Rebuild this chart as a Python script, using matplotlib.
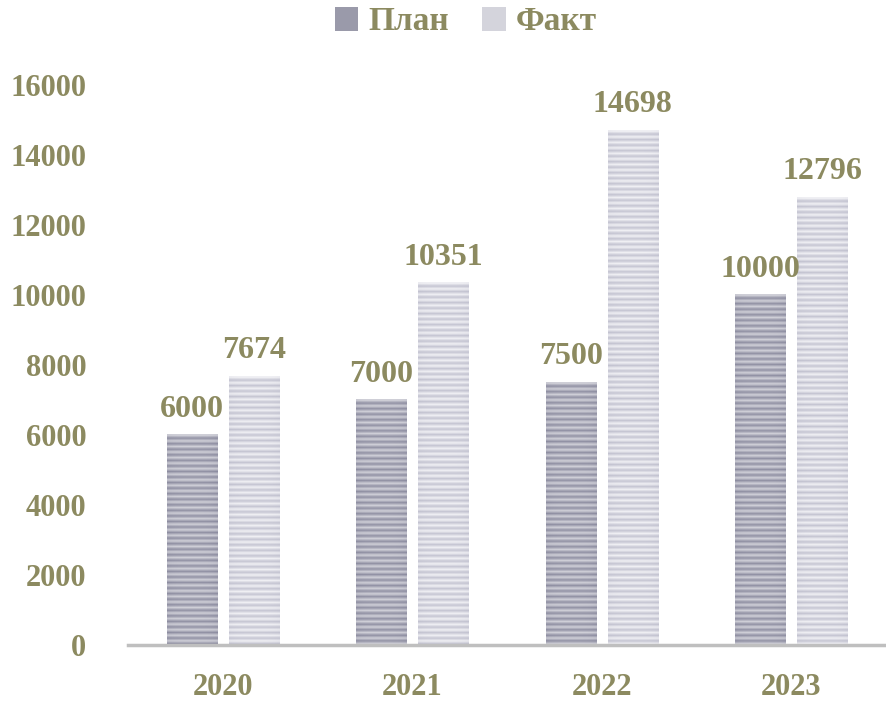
import numpy as np
import matplotlib
matplotlib.use("Agg")
import matplotlib.pyplot as plt
from matplotlib.patches import Rectangle

years = ["2020", "2021", "2022", "2023"]
plan = [6000, 7000, 7500, 10000]
fact = [7674, 10351, 14698, 12796]
series_names = ["План", "Факт"]
yticks = [0, 2000, 4000, 6000, 8000, 10000, 12000, 14000, 16000]

olive = "#8c8a60"
font = "Liberation Serif"

fig = plt.figure(figsize=(8.86, 7.05), dpi=100)
ax = fig.add_axes([128/886, 1-645/705, (886-128)/886, 560/705])

ax.set_xlim(-0.5, len(years) - 0.5)
ax.set_ylim(0, 16000)

width = 0.264
offset = 0.163


def striped(dark, light, n_rows):
    cols = 40
    x = np.linspace(-1, 1, cols)
    edge = 1 - 0.3 * x**4
    rows = np.arange(n_rows)
    stripe = 0.5 + 0.5 * np.cos(rows * np.pi)
    dark = np.array(matplotlib.colors.to_rgb(dark))
    light = np.array(matplotlib.colors.to_rgb(light))
    t = stripe[:, None] * 0.75 + 0.25 * edge[None, :]
    t = np.clip(t, 0, 1)
    img = dark[None, None, :] * (1 - t[..., None]) + light[None, None, :] * t[..., None]
    return img


def draw_bar(xc, val, dark, light):
    px = val / 16000 * 560
    n = max(2, int(round(px / 2.75)))
    img = striped(dark, light, n)
    ax.imshow(img, extent=(xc - width/2, xc + width/2, 0, val), aspect="auto",
              interpolation="bilinear", zorder=2)


for i, (p, f) in enumerate(zip(plan, fact)):
    draw_bar(i - offset, p, "#7e7e94", "#d0d0d8")
    draw_bar(i + offset, f, "#b8b8c8", "#f0f0f4")
    ax.annotate(f"{p}", (i - offset, p), xytext=(0, 8), textcoords="offset points",
                ha="center", va="bottom", fontsize=23, fontweight="bold",
                color=olive, family=font, zorder=3)
    ax.annotate(f"{f}", (i + offset, f), xytext=(0, 8), textcoords="offset points",
                ha="center", va="bottom", fontsize=23, fontweight="bold",
                color=olive, family=font, zorder=3)

ax.set_xlim(-0.5, len(years) - 0.5)
ax.set_ylim(0, 16000)

for s in ["top", "right", "left"]:
    ax.spines[s].set_visible(False)
ax.spines["bottom"].set_color("#bfbfbf")
ax.spines["bottom"].set_linewidth(2.5)
ax.spines["bottom"].set_zorder(4)

ax.set_xticks(range(len(years)))
ax.set_xticklabels(years)
ax.set_yticks(yticks)
ax.set_yticklabels([str(v) for v in yticks])
ax.tick_params(axis="x", length=0, pad=20)
ax.tick_params(axis="y", length=0, pad=30)
for lbl in ax.get_xticklabels() + ax.get_yticklabels():
    lbl.set_fontsize(22)
    lbl.set_fontweight("bold")
    lbl.set_color(olive)
    lbl.set_family(font)

# Legend
handles = [Rectangle((0, 0), 1, 1, facecolor="#9a9aaa", edgecolor="none"),
           Rectangle((0, 0), 1, 1, facecolor="#d4d4dc", edgecolor="none")]
leg = fig.legend(handles, series_names, loc="center", bbox_to_anchor=(466/886, 1-22/705),
                 ncol=2, frameon=False, handlelength=0.7, handleheight=0.7,
                 handletextpad=0.3, columnspacing=1.0,
                 prop={"family": font, "weight": "bold", "size": 24})
for t in leg.get_texts():
    t.set_color(olive)

fig.savefig("out.png", dpi=100)
